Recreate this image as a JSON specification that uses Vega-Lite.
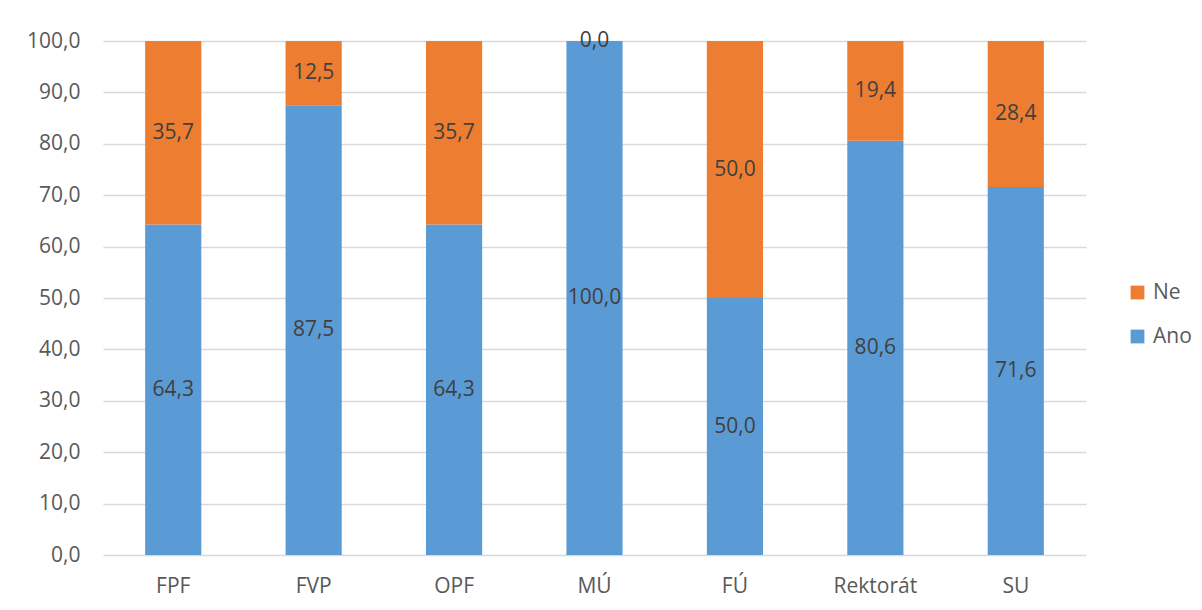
{
  "$schema": "https://vega.github.io/schema/vega-lite/v6.json",
  "autosize": "none",
  "width": 983,
  "height": 514,
  "padding": {"left": 103, "top": 41, "right": 116, "bottom": 55},
  "background": "white",
  "config": {
    "locale": {"number": {"decimal": ",", "thousands": " ", "grouping": [3], "currency": ["", ""]}},
    "view": {"stroke": null},
    "font": "Open Sans",
    "axis": {"labelFont": "Open Sans", "labelFontSize": 21, "labelColor": "#595959", "domain": false, "ticks": false, "tickSize": 0}
  },
  "data": {"values": [
    {"kategorie": "FPF", "odpoved": "Ano", "hodnota": 64.3},
    {"kategorie": "FPF", "odpoved": "Ne", "hodnota": 35.7},
    {"kategorie": "FVP", "odpoved": "Ano", "hodnota": 87.5},
    {"kategorie": "FVP", "odpoved": "Ne", "hodnota": 12.5},
    {"kategorie": "OPF", "odpoved": "Ano", "hodnota": 64.3},
    {"kategorie": "OPF", "odpoved": "Ne", "hodnota": 35.7},
    {"kategorie": "MÚ", "odpoved": "Ano", "hodnota": 100.0},
    {"kategorie": "MÚ", "odpoved": "Ne", "hodnota": 0.0},
    {"kategorie": "FÚ", "odpoved": "Ano", "hodnota": 50.0},
    {"kategorie": "FÚ", "odpoved": "Ne", "hodnota": 50.0},
    {"kategorie": "Rektorát", "odpoved": "Ano", "hodnota": 80.6},
    {"kategorie": "Rektorát", "odpoved": "Ne", "hodnota": 19.4},
    {"kategorie": "SU", "odpoved": "Ano", "hodnota": 71.6},
    {"kategorie": "SU", "odpoved": "Ne", "hodnota": 28.4}
  ]},
  "transform": [
    {"stack": "hodnota", "groupby": ["kategorie"], "sort": [{"field": "odpoved", "order": "ascending"}], "as": ["y0", "y1"]},
    {"calculate": "(datum.y0 + datum.y1) / 2", "as": "ymid"}
  ],
  "encoding": {
    "x": {
      "field": "kategorie", "type": "nominal",
      "sort": ["FPF", "FVP", "OPF", "MÚ", "FÚ", "Rektorát", "SU"],
      "scale": {"paddingInner": 0.6, "paddingOuter": 0.3},
      "axis": {"title": null, "labelAngle": 0, "labelPadding": 20, "grid": false}
    }
  },
  "layer": [
    {
      "mark": {"type": "bar"},
      "encoding": {
        "y": {"field": "y0", "type": "quantitative",
          "scale": {"domain": [0, 100]},
          "axis": {"title": null, "values": [0,10,20,30,40,50,60,70,80,90,100], "format": ".1f", "labelPadding": 23, "grid": true, "gridColor": "#D9D9D9", "gridWidth": 1.3}},
        "y2": {"field": "y1"},
        "color": {"field": "odpoved", "type": "nominal",
          "scale": {"domain": ["Ne", "Ano"], "range": ["#ED7D31", "#5B9BD5"]},
          "legend": {"title": null, "orient": "none", "legendX": 1024, "legendY": 241, "symbolType": "square", "symbolSize": 190, "symbolStrokeWidth": 0, "labelFont": "Open Sans", "labelFontSize": 21, "labelColor": "#595959", "rowPadding": 22, "labelOffset": 5, "padding": 0}}
      }
    },
    {
      "mark": {"type": "text", "font": "Open Sans", "fontSize": 21, "color": "#404040", "baseline": "middle"},
      "encoding": {
        "y": {"field": "ymid", "type": "quantitative"},
        "text": {"field": "hodnota", "type": "quantitative", "format": ".1f"}
      }
    }
  ]
}
